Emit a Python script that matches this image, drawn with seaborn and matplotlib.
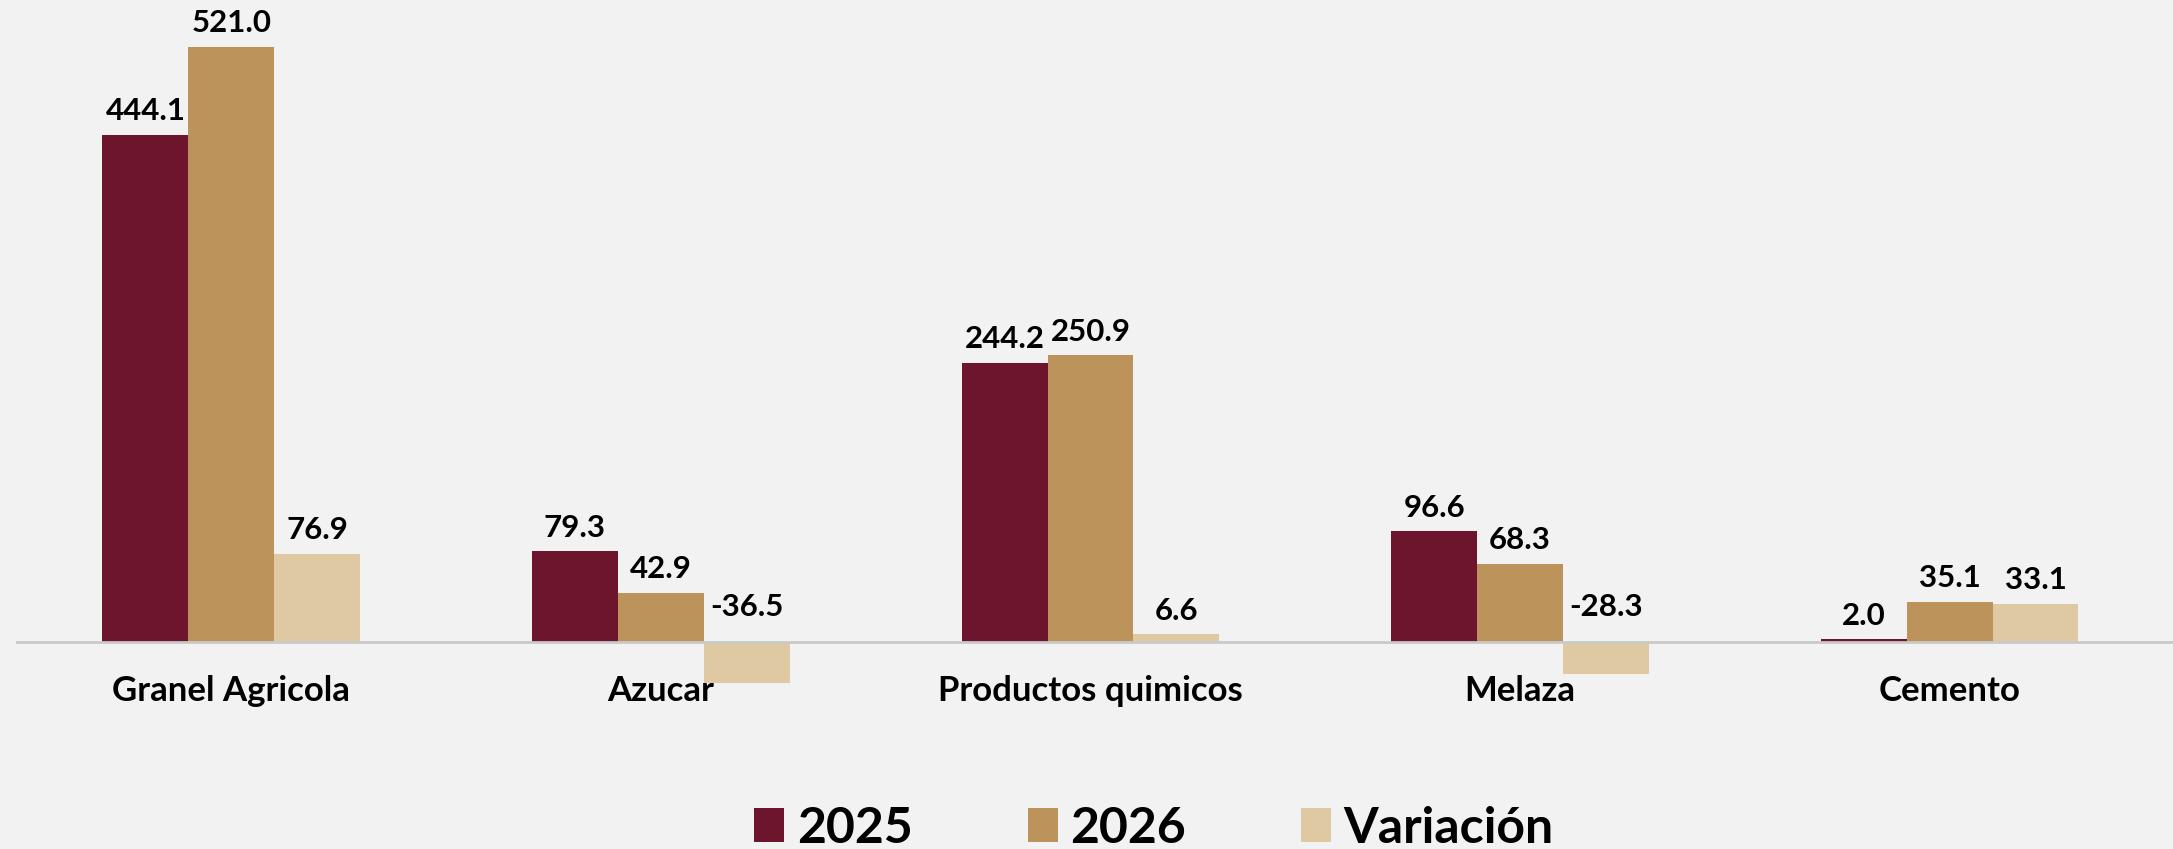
import pandas as pd
import seaborn as sns
import matplotlib.pyplot as plt

# data
categorias = ["Granel Agricola", "Azucar", "Productos quimicos", "Melaza", "Cemento"]
valores_2025 = [444.1, 79.3, 244.2, 96.6, 2.0]
valores_2026 = [521.0, 42.9, 250.9, 68.3, 35.1]
variacion = [76.9, -36.5, 6.6, -28.3, 33.1]
series = ["2025", "2026", "Variación"]
colores = ["#6c152d", "#bc945b", "#dfc9a2"]

df = pd.DataFrame({
    "categoria": categorias * 3,
    "serie": [s for s in series for _ in categorias],
    "valor": valores_2025 + valores_2026 + variacion,
})

sns.set_theme(style="white")
plt.rcParams["font.family"] = ["Lato", "DejaVu Sans"]
plt.rcParams["text.color"] = "black"
fondo = "#f1f2f1"

fig = plt.figure(figsize=(21.73, 8.49), dpi=100, facecolor=fondo)
ax = fig.add_axes([0.0076, 0.0, 0.9924, 1.0])
ax.set_facecolor(fondo)

sns.barplot(data=df, x="categoria", y="valor", hue="serie", palette=colores,
            width=0.6, saturation=1, ax=ax, legend=True, linewidth=0)

ax.set_ylim(-181.6, 562.2)
ax.set_xlim(-0.5, 4.52)

# value labels: above the bar (or above the zero line for negatives)
for cont in ax.containers:
    for p in cont.patches:
        h = p.get_height()
        if p.get_y() < 0 or h < 0:
            val = p.get_y() if p.get_y() < 0 else h
            base, off = 0, 25
        else:
            val = h
            base, off = h, 17
        ax.annotate(f"{val:.1f}", (p.get_x() + p.get_width() / 2, base),
                    xytext=(0, off), textcoords="offset points",
                    ha="center", va="center", fontsize=22.5, fontweight="bold",
                    color="black")

for s in ["top", "right", "left"]:
    ax.spines[s].set_visible(False)
ax.spines["bottom"].set_position(("data", 0))
ax.spines["bottom"].set_color("#c9c9c9")
ax.spines["bottom"].set_linewidth(2)
ax.set_yticks([])
ax.set_xlabel("")
ax.set_ylabel("")
ax.tick_params(axis="x", length=0, pad=24, labelsize=25, labelcolor="black")
for t in ax.get_xticklabels():
    t.set_fontweight("bold")

handles, labels = ax.get_legend_handles_labels()
ax.get_legend().remove()
fig.legend(handles, labels, loc="lower center", bbox_to_anchor=(0.531, -0.055),
           ncol=3, frameon=False, prop={"size": 36, "weight": "bold"},
           labelcolor="black", handlelength=0.6, handleheight=0.65,
           handletextpad=0.25, columnspacing=2.3)

fig.savefig("out.png", dpi=100, facecolor=fondo)
